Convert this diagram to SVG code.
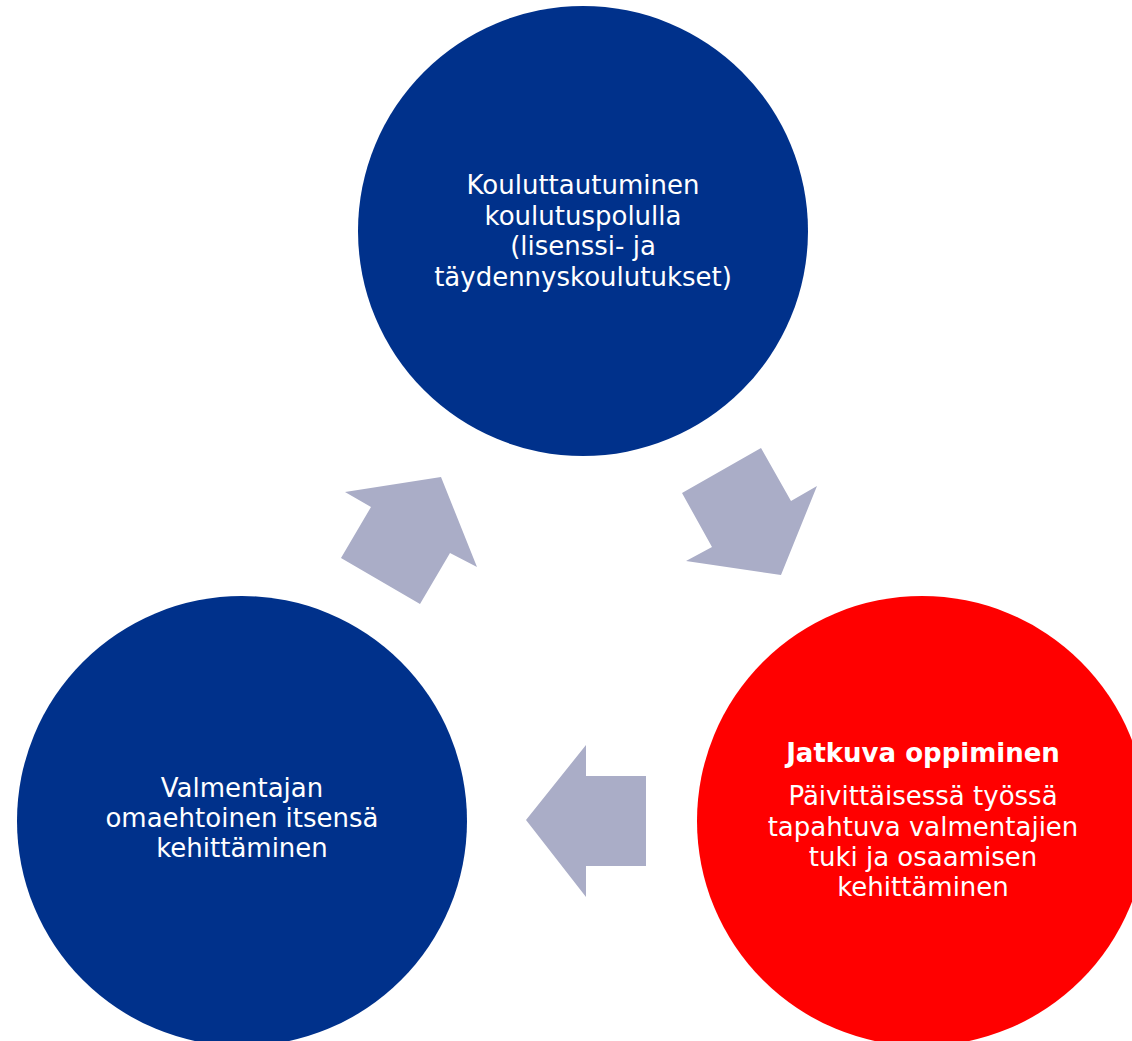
<svg xmlns="http://www.w3.org/2000/svg" width="1132" height="1041" viewBox="0 0 1132 1041">
<style>
.blue{fill:#00318B}
.red{fill:#FF0000}
.arr{fill:#AAADC7}
text{font-family:"DejaVu Sans","Liberation Sans",sans-serif;font-size:26px;fill:#FFFFFF;text-anchor:middle}
.b{font-weight:bold}
</style>
<rect width="1132" height="1041" fill="#FFFFFF"/>
<g id="connectors">
<polygon class="arr" points="441,477 477,567 450,553 420,604 341,558 371,507 345,492"/>
<polygon class="arr" points="761,448 791,501 817,486 781,575 686,561 712,547 682,493"/>
<polygon class="arr" points="526,820 586,745 586,776 646,776 646,866 586,866 586,897"/>
</g>
<g id="node-top">
<circle class="blue" cx="583" cy="231" r="225"/>
<text x="583" y="194">Kouluttautuminen</text>
<text x="583" y="225">koulutuspolulla</text>
<text x="583" y="255">(lisenssi- ja</text>
<text x="583" y="286">täydennyskoulutukset)</text>
</g>
<g id="node-right">
<circle class="red" cx="922" cy="821" r="225"/>
<text class="b" x="923" y="762">Jatkuva oppiminen</text>
<text x="923" y="805">Päivittäisessä työssä</text>
<text x="923" y="836">tapahtuva valmentajien</text>
<text x="923" y="866">tuki ja osaamisen</text>
<text x="923" y="896">kehittäminen</text>
</g>
<g id="node-left">
<circle class="blue" cx="242" cy="821" r="225"/>
<text x="242" y="797">Valmentajan</text>
<text x="242" y="827">omaehtoinen itsensä</text>
<text x="242" y="857">kehittäminen</text>
</g>
</svg>
